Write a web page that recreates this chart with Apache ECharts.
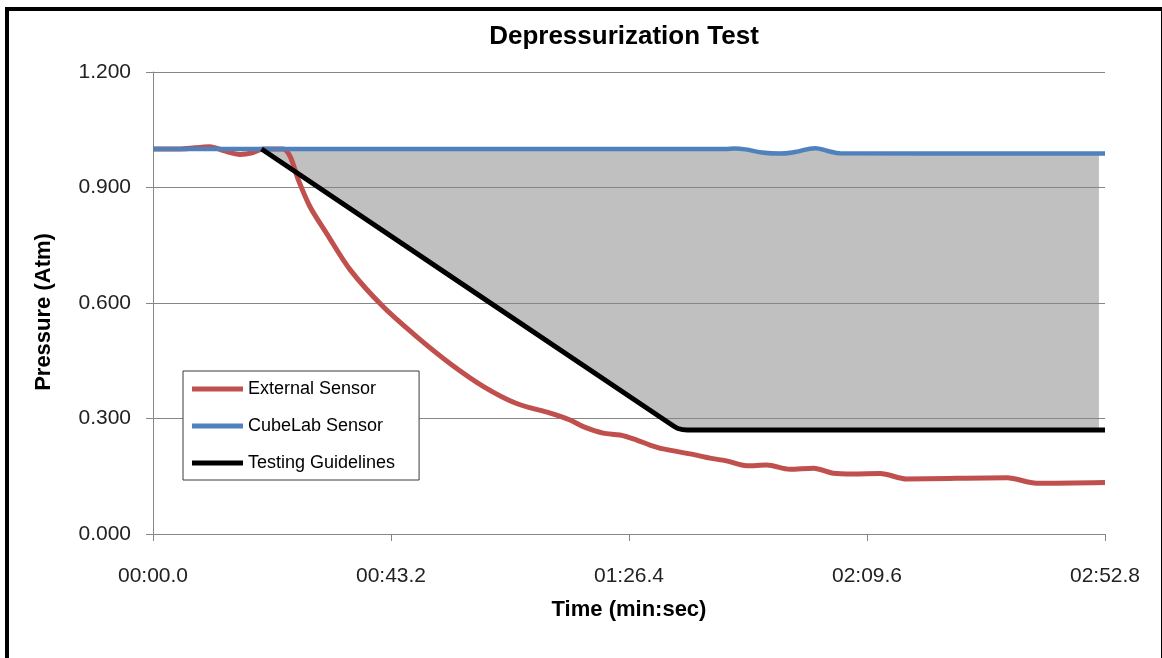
<!DOCTYPE html>
<html><head><meta charset="utf-8">
<script src="https://cdn.jsdelivr.net/npm/echarts@6/dist/echarts.min.js"></script>
<style>html,body{margin:0;padding:0;background:#fff}#c{width:1162px;height:658px}</style>
</head><body><div id="c"></div>
<script>
// time in seconds, pressure in atm
const externalSensor = [
  [0,1.0],[5,1.0],[10.3,1.006],[13,0.995],[15.8,0.986],[18,0.99],[20,1.0],[23.6,1.0],
  [24.9,0.98],[26.4,0.919],[28.5,0.85],[31.5,0.781],[35.8,0.686],[41.8,0.59],[47.9,0.512],
  [53.9,0.443],[60,0.383],[66,0.339],[72.1,0.314],[75.7,0.296],[78.1,0.279],[81.7,0.262],
  [84.8,0.257],[87.8,0.244],[90.2,0.231],[92.6,0.221],[97.5,0.208],[101.1,0.197],[104.1,0.190],
  [107.8,0.177],[111.4,0.179],[115.6,0.168],[119.9,0.171],[123.5,0.158],[127,0.156],[132,0.157],
  [136.8,0.143],[155,0.146],[160.4,0.132],[172.8,0.134]
];
const cubeLabSensor = [
  [0,1.0],[104,1.0],[105.5,1.001],[107.5,0.999],[110.5,0.991],[113.8,0.988],[116.5,0.992],
  [120.2,1.002],[122.5,0.995],[124.7,0.989],[172.8,0.988]
];
const testingGuidelines = [
  [19.7,1.0],[94.0,0.285],[95.3,0.274],[97.0,0.270],[172.8,0.270]
];
// shaded band between guideline (bottom) and CubeLab reading (top)
const bandTimes  = [19.7, 94.0, 95.3, 97.0, 104, 105.5, 107.5, 110.5, 113.8, 116.5, 120.2, 122.5, 124.7, 171.7];
const bandBottom = [1.0, 0.285, 0.274, 0.270, 0.270, 0.270, 0.270, 0.270, 0.270, 0.270, 0.270, 0.270, 0.270, 0.270];
const bandTop    = [1.0, 1.0, 1.0, 1.0, 1.0, 1.001, 0.999, 0.991, 0.988, 0.992, 1.002, 0.995, 0.989, 0.988];
const xMin = 0, xMax = 172.8, xStep = 43.2;
const yMin = 0, yMax = 1.2, yStep = 0.3;

function fmtTime(v){
  const m = Math.floor(v/60 + 1e-9);
  const s = v - m*60;
  const ss = s.toFixed(1);
  return String(m).padStart(2,'0') + ':' + (s < 10 ? '0' + ss : ss);
}

const chart = echarts.init(document.getElementById('c'), null, {renderer:'canvas'});
const FONT = '"Liberation Sans", Arial, sans-serif';
const GRID = '#868686';

chart.setOption({
  backgroundColor: '#fff',
  animation: false,
  title: {
    text: 'Depressurization Test',
    left: 624, top: 24, textAlign: 'center', padding: 0,
    textStyle: {fontFamily: FONT, fontSize: 26, fontWeight: 'bold', color: '#000'}
  },
  graphic: [{
    type: 'rect', silent: true, z: 100,
    shape: {x: 7, y: 9, width: 1156, height: 700},
    style: {fill: 'none', stroke: '#000', lineWidth: 4}
  }],
  legend: {
    data: ['External Sensor', 'CubeLab Sensor', 'Testing Guidelines'],
    orient: 'vertical', left: 183, top: 371,
    padding: [9, 24, 8, 9], itemGap: 19,
    itemWidth: 51, itemHeight: 5, icon: 'rect',
    backgroundColor: '#fff', borderColor: '#3a3a3a', borderWidth: 1,
    textStyle: {fontFamily: FONT, fontSize: 18, lineHeight: 18, color: '#000'}
  },
  grid: {left: 153, top: 72, width: 952, height: 462, containLabel: false},
  xAxis: {
    type: 'value', min: xMin, max: xMax, interval: xStep,
    name: 'Time (min:sec)', nameLocation: 'middle', nameGap: 65,
    nameTextStyle: {fontFamily: FONT, fontSize: 22, fontWeight: 'bold', color: '#000'},
    axisLine: {show: true, lineStyle: {color: GRID, width: 1}},
    axisTick: {show: true, length: 7, lineStyle: {color: GRID}},
    axisLabel: {formatter: fmtTime, margin: 32, fontFamily: FONT, fontSize: 21, color: '#222', showMaxLabel: true, showMinLabel: true},
    splitLine: {show: false}
  },
  yAxis: {
    type: 'value', min: yMin, max: yMax, interval: yStep,
    name: 'Pressure (Atm)', nameLocation: 'middle', nameGap: 98,
    nameTextStyle: {fontFamily: FONT, fontSize: 22, fontWeight: 'bold', color: '#000', padding: [0, 18, 0, 0]},
    axisLine: {show: true, lineStyle: {color: GRID, width: 1}},
    axisTick: {show: true, length: 7, lineStyle: {color: GRID}},
    axisLabel: {formatter: v => v.toFixed(3), margin: 22, fontFamily: FONT, fontSize: 21, color: '#222'},
    splitLine: {show: true, lineStyle: {color: GRID, width: 1}}
  },
  series: [
    {
      name: 'band', type: 'custom', silent: true, z: 1,
      data: [[bandTimes[0], bandTop[0]]],
      encode: {x: 0, y: 1},
      renderItem: function (params, api) {
        const pts = [];
        for (let i = 0; i < bandTimes.length; i++) pts.push(api.coord([bandTimes[i], bandTop[i]]));
        for (let i = bandTimes.length - 1; i >= 0; i--) pts.push(api.coord([bandTimes[i], bandBottom[i]]));
        return {type: 'polygon', shape: {points: pts}, style: {fill: 'rgba(134,134,134,0.52)'}};
      }
    },
    {
      name: 'External Sensor', type: 'line', data: externalSensor, z: 3,
      showSymbol: false, symbol: 'none', smooth: 0.3,
      lineStyle: {color: '#c0504d', width: 5}, itemStyle: {color: '#c0504d'}
    },
    {
      name: 'CubeLab Sensor', type: 'line', data: cubeLabSensor, z: 4,
      showSymbol: false, symbol: 'none', smooth: 0.4,
      lineStyle: {color: '#4f81bd', width: 4.5}, itemStyle: {color: '#4f81bd'}
    },
    {
      name: 'Testing Guidelines', type: 'line', data: testingGuidelines, z: 5,
      showSymbol: false, symbol: 'none', smooth: 0.2,
      lineStyle: {color: '#000', width: 5}, itemStyle: {color: '#000'}
    }
  ]
});
</script>
</body></html>
